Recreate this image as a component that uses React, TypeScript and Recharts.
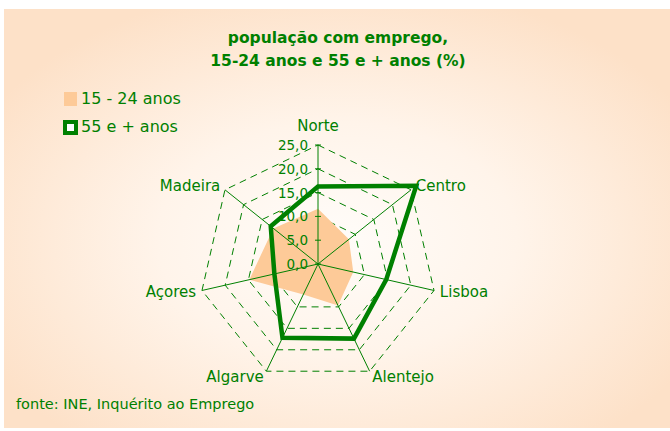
import React from "react";
import {
  RadarChart,
  Radar,
  PolarGrid,
  PolarAngleAxis,
  PolarRadiusAxis,
  Legend,
} from "recharts";

// regiões (NUTS II)
const regioes = ["Norte", "Centro", "Lisboa", "Alentejo", "Algarve", "Açores", "Madeira"];
// % da população com emprego
const jovens = [11.6, 8.3, 7.6, 9.7, 7.1, 14.8, 12.0]; // 15 - 24 anos
const seniores = [16.3, 26.4, 14.7, 17.4, 17.2, 9.4, 12.7]; // 55 e + anos
const radiusTicks = [0, 5, 10, 15, 20, 25];

const data = regioes.map((r, i) => ({ regiao: r, jovens: jovens[i], seniores: seniores[i] }));

const GREEN = "#008000";
const PEACH = "#fdca98";
const FONT = "'DejaVu Sans', Arial, sans-serif";
const CX = 318;
const CY = 264;
const R = 119;

const fmt = (v: number) => v.toFixed(1).replace(".", ",");

// rótulos das regiões, colocados fora do polígono exterior
function AngleTick(props: any) {
  const { payload } = props;
  const a = (-payload.coordinate * Math.PI) / 180;
  const r = R + 6;
  const cos = Math.cos(a);
  const x = CX + r * cos;
  let y = CY + r * Math.sin(a);
  const anchor = cos > 1e-5 ? "start" : cos < -1e-5 ? "end" : "middle";
  if (anchor === "middle" && y < CY) y -= 13;
  return (
    <text x={x} y={y} textAnchor={anchor} dominantBaseline="central" fill={GREEN} fontSize={15} fontFamily={FONT}>
      {payload.value}
    </text>
  );
}

function RadiusTick(props: any) {
  const { x, y, payload } = props;
  return (
    <g>
      <line x1={x - 3} x2={x + 3} y1={y} y2={y} stroke={GREEN} strokeWidth={1} />
      <text x={x - 10} y={y} textAnchor="end" dominantBaseline="central" fill={GREEN} fontSize={13.5} fontFamily={FONT}>
        {fmt(payload.value)}
      </text>
    </g>
  );
}

function LegendBox() {
  return (
    <div style={{ fontFamily: FONT, fontSize: 16, color: GREEN, lineHeight: "20px" }}>
      <div style={{ display: "flex", alignItems: "center", height: 20, marginBottom: 8 }}>
        <span style={{ display: "inline-block", width: 13, height: 14, background: PEACH, marginLeft: 1, marginRight: 4 }} />
        15 - 24 anos
      </div>
      <div style={{ display: "flex", alignItems: "center", height: 20 }}>
        <span
          style={{
            display: "inline-block",
            width: 7,
            height: 7,
            background: "#fff",
            border: `4px solid ${GREEN}`,
            marginRight: 3,
          }}
        />
        55 e + anos
      </div>
    </div>
  );
}

export default function App() {
  return (
    <div
      style={{
        position: "absolute",
        left: 0,
        top: 0,
        width: 670,
        height: 431,
        background: "#fff",
        overflow: "hidden",
      }}
    >
      <style>{`.recharts-polar-grid-concentric-polygon, .recharts-polar-grid-concentric path { stroke-dasharray: 7 5; }`}</style>
      <div
        style={{
          position: "absolute",
          left: 4,
          top: 9,
          width: 666,
          height: 419,
          background:
            "radial-gradient(ellipse 60% 62% at 50% 55%, #fffcf9 0%, #fff4ea 45%, #fde1c8 100%)",
        }}
      />
      <div
        style={{
          position: "absolute",
          left: 0,
          top: 27,
          width: 676,
          textAlign: "center",
          fontFamily: FONT,
          fontWeight: "bold",
          fontSize: 15.5,
          lineHeight: "23px",
          color: GREEN,
        }}
      >
        população com emprego,
        <br />
        15-24 anos e 55 e + anos (%)
      </div>
      <div
        style={{
          position: "absolute",
          left: 16,
          top: 395,
          fontFamily: FONT,
          fontSize: 14.5,
          lineHeight: "18px",
          color: GREEN,
        }}
      >
        fonte: INE, Inquérito ao Emprego
      </div>
      <div style={{ position: "absolute", left: 0, top: 0 }}>
        <RadarChart width={670} height={431} data={data} cx={CX} cy={CY} outerRadius={R} margin={{ top: 0, right: 0, bottom: 0, left: 0 }}>
          <PolarGrid gridType="polygon" radialLines={false} stroke={GREEN} strokeWidth={1} />
          <Radar
            name="15 - 24 anos"
            dataKey="jovens"
            fill={PEACH}
            fillOpacity={1}
            stroke="none"
            isAnimationActive={false}
          />
          {/* tick lines pointing inward draw the solid spokes over the area */}
          <PolarAngleAxis
            dataKey="regiao"
            orientation="inner"
            tickSize={R}
            tick={AngleTick}
            tickLine={{ stroke: GREEN, strokeWidth: 1 }}
            axisLine={false}
          />
          <PolarRadiusAxis
            angle={90}
            domain={[0, 25]}
            ticks={radiusTicks}
            tickCount={6}
            allowDataOverflow
            axisLine={false}
            tick={RadiusTick}
          />
          <Radar
            name="55 e + anos"
            dataKey="seniores"
            fill="none"
            fillOpacity={0}
            stroke={GREEN}
            strokeWidth={4.5}
            strokeLinejoin="miter"
            isAnimationActive={false}
          />
          <Legend
            layout="vertical"
            verticalAlign="top"
            align="left"
            wrapperStyle={{ position: "absolute", left: 63, top: 89, width: 200 }}
            content={() => <LegendBox />}
          />
        </RadarChart>
      </div>
    </div>
  );
}
